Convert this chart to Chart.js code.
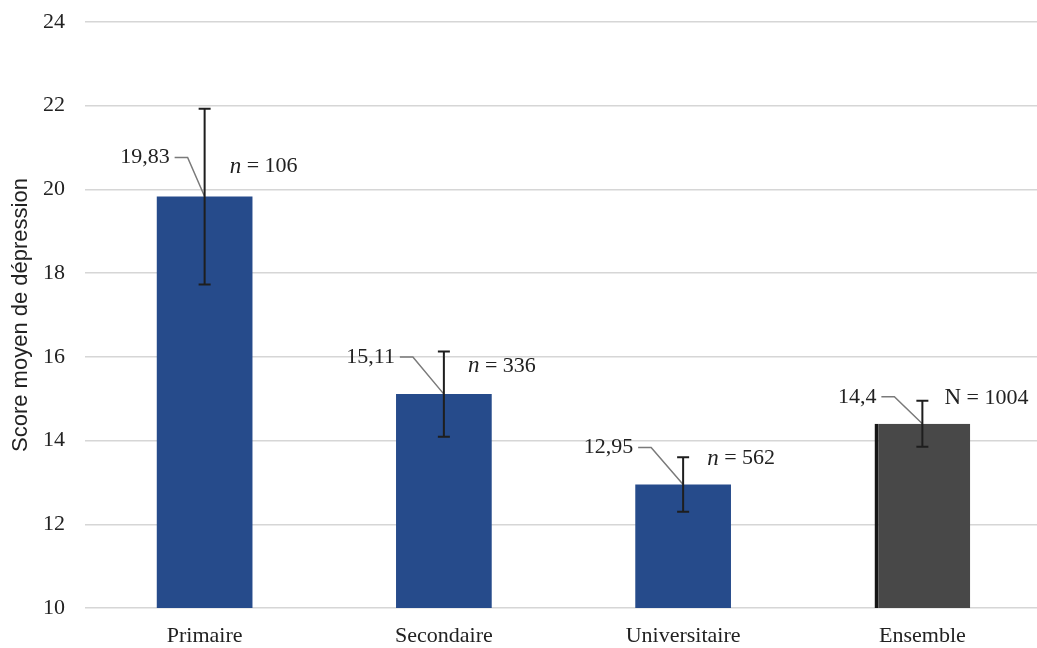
<!DOCTYPE html>
<html lang="fr">
<head>
<meta charset="utf-8">
<title>Score moyen de dépression</title>
<script src="https://cdn.jsdelivr.net/npm/chart.js@4/dist/chart.umd.min.js"></script>
<style>
    html, body { margin: 0; padding: 0; background: #ffffff; overflow: hidden; }
    #wrap { position: absolute; left: 0; top: 0; width: 1042px; height: 648px; }
</style>
</head>
<body>
<div id="wrap"><canvas id="chart" width="1042" height="648"></canvas></div>
<script>
// ------------------------------------------------------------
// Data
// ------------------------------------------------------------
const categories = ['Primaire', 'Secondaire', 'Universitaire', 'Ensemble'];
const means = [19.83, 15.11, 12.95, 14.4];
const errors = [2.1, 1.02, 0.65, 0.55];
const sampleSymbols = ['n', 'n', 'n', 'N'];
const sampleSizes = [106, 336, 562, 1004];
const yMin = 10;
const yMax = 24;
const yStep = 2;

const barColors = ['#264b8b', '#264b8b', '#264b8b', '#484848'];
const SERIF = '"Liberation Serif", "Times New Roman", serif';
const SANS = '"Liberation Sans", Arial, sans-serif';
const INK = '#222222';

// per-bar label placement (offsets from the bar centre / bar top, in px)
const labelLayout = [
    { valDx: -35, valDy: -39, nDx: 25, nDy: -30 },
    { valDx: -49, valDy: -37, nDx: 24, nDy: -28 },
    { valDx: -50, valDy: -37, nDx: 24, nDy: -26 },
    { valDx: -46, valDy: -27, nDx: 22, nDy: -26 }
];

const fmt = v => String(v).replace('.', ',');

// ------------------------------------------------------------
// Error bars + value / sample size annotations
// ------------------------------------------------------------
const annotations = {
    id: 'annotations',
    afterDatasetsDraw(chart) {
        const ctx = chart.ctx;
        const y = chart.scales.y;
        const meta = chart.getDatasetMeta(0);

        meta.data.forEach((bar, i) => {
            const cx = bar.x;
            const top = y.getPixelForValue(means[i]);
            const hi = y.getPixelForValue(means[i] + errors[i]);
            const lo = y.getPixelForValue(means[i] - errors[i]);
            const L = labelLayout[i];

            ctx.save();

            // leader line from the value label down to the bar top
            ctx.font = '22px ' + SERIF;
            const valText = fmt(means[i]);
            const textRight = cx + L.valDx;
            const ly = top + L.valDy;
            ctx.strokeStyle = '#7a7a7a';
            ctx.lineWidth = 1.5;
            ctx.beginPath();
            ctx.moveTo(textRight + 5, ly);
            ctx.lineTo(textRight + 18, ly);
            ctx.lineTo(cx, top);
            ctx.stroke();

            // error bar
            ctx.strokeStyle = '#1e1e1e';
            ctx.lineWidth = 2;
            ctx.beginPath();
            ctx.moveTo(cx, hi);
            ctx.lineTo(cx, lo);
            ctx.moveTo(cx - 6, hi);
            ctx.lineTo(cx + 6, hi);
            ctx.moveTo(cx - 6, lo);
            ctx.lineTo(cx + 6, lo);
            ctx.stroke();

            // value label
            ctx.fillStyle = INK;
            ctx.textAlign = 'right';
            ctx.textBaseline = 'middle';
            ctx.fillText(valText, textRight, ly);

            // sample size label: italic "n" or upright "N"
            const nx = cx + L.nDx;
            const ny = top + L.nDy;
            ctx.textAlign = 'left';
            const sym = sampleSymbols[i];
            ctx.font = (sym === 'n' ? 'italic 23px ' : '23px ') + SERIF;
            ctx.fillText(sym, nx, ny);
            const w = ctx.measureText(sym).width;
            ctx.font = '22px ' + SERIF;
            ctx.fillText(' = ' + sampleSizes[i], nx + w, ny);

            ctx.restore();
        });
    }
};

new Chart(document.getElementById('chart'), {
    type: 'bar',
    data: {
        labels: categories,
        datasets: [{
            data: means,
            backgroundColor: barColors,
            borderColor: ['#264b8b', '#264b8b', '#264b8b', '#161616'],
            borderWidth: [0, 0, 0, { left: 4, top: 0, right: 0, bottom: 0 }],
            borderSkipped: false,
            categoryPercentage: 1,
            barPercentage: 0.4
        }]
    },
    options: {
        responsive: false,
        animation: false,
        layout: { padding: { top: 22, left: 0, right: 0, bottom: 0 } },
        plugins: {
            legend: { display: false },
            tooltip: { enabled: false }
        },
        scales: {
            x: {
                grid: { display: false, drawTicks: false },
                border: { display: false },
                ticks: {
                    padding: 15,
                    color: INK,
                    font: { family: SERIF, size: 22 }
                },
                afterFit(scale) {
                    scale.height = 40;
                    scale.paddingLeft = 0;
                    scale.paddingRight = 0;
                }
            },
            y: {
                min: yMin,
                max: yMax,
                grid: { color: '#d6d6d6', lineWidth: 1.5, drawTicks: false },
                border: { display: false },
                ticks: {
                    stepSize: yStep,
                    padding: 20,
                    color: INK,
                    font: { family: SERIF, size: 22 }
                },
                title: {
                    display: true,
                    text: 'Score moyen de dépression',
                    color: INK,
                    font: { family: SANS, size: 22 },
                    padding: { top: 8, bottom: 0 }
                },
                afterFit(scale) {
                    scale.width = 85;
                    scale.paddingTop = 0;
                    scale.paddingBottom = 0;
                }
            }
        }
    },
    plugins: [annotations]
});
</script>
</body>
</html>
